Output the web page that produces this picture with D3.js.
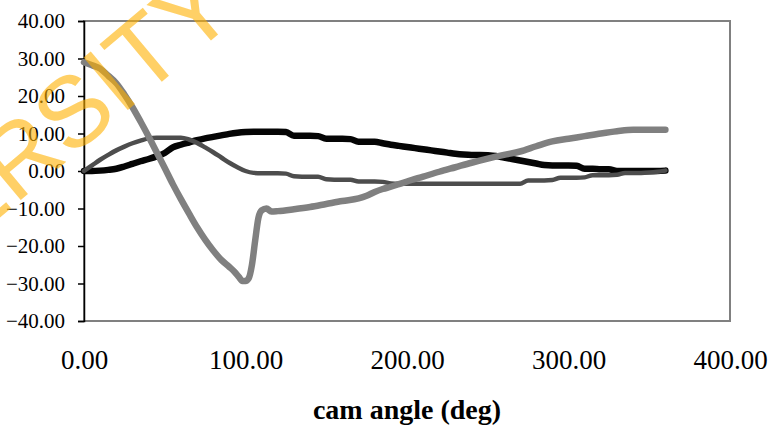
<!DOCTYPE html>
<html>
<head>
<meta charset="utf-8">
<script src="https://cdn.jsdelivr.net/npm/d3@7"></script>
<style>
  html, body { margin: 0; padding: 0; background: #fff; }
  svg { display: block; }
</style>
</head>
<body>
<svg id="chart" width="771" height="427"></svg>
<script>
// cam angle (deg), shared by the first two series
var angles = [0, 5, 10, 15, 20, 25, 30, 35, 40, 45, 50, 55, 60, 65, 70, 75, 80, 85, 90, 95,
  100, 105, 110, 115, 120, 125, 130, 135, 140, 145, 150, 155, 160, 165, 170, 175, 180, 185, 190, 195,
  200, 205, 210, 215, 220, 225, 230, 235, 240, 245, 250, 255, 260, 265, 270, 275, 280, 285, 290, 295,
  300, 305, 310, 315, 320, 325, 330, 335, 340, 345, 350, 355, 360];

// black series
var seriesA = [0, 0, 0.1, 0.3, 0.6, 1.2, 1.9, 2.6, 3.2, 3.9, 4.8, 6.3, 7.0, 7.6, 8.2, 8.7, 9.1, 9.5, 9.9, 10.2,
  10.4, 10.5, 10.5, 10.5, 10.5, 10.4, 9.4, 9.4, 9.4, 9.3, 8.6, 8.6, 8.6, 8.5, 7.8, 7.8, 7.8, 7.4, 7.0, 6.7,
  6.4, 6.1, 5.8, 5.5, 5.2, 4.9, 4.6, 4.4, 4.3, 4.3, 4.2, 4.0, 3.6, 3.2, 2.8, 2.4, 2.0, 1.6, 1.5, 1.5,
  1.5, 1.4, 0.6, 0.6, 0.5, 0.5, 0.0, 0.0, 0.0, 0.0, 0.0, 0.0, 0.1];

// dark grey series
var seriesB = [0, 1.5, 3.0, 4.3, 5.5, 6.5, 7.4, 8.1, 8.7, 8.9, 8.9, 8.9, 8.9, 8.4, 7.5, 6.3, 5.0, 3.6, 2.2, 1.0,
  0.0, -0.5, -0.6, -0.6, -0.6, -0.7, -1.4, -1.5, -1.5, -1.5, -2.2, -2.3, -2.3, -2.3, -2.8, -2.8, -2.8, -2.9, -3.3, -3.4,
  -3.4, -3.4, -3.4, -3.4, -3.4, -3.4, -3.4, -3.4, -3.4, -3.4, -3.4, -3.4, -3.4, -3.4, -3.4, -2.5, -2.5, -2.5, -2.4, -1.8,
  -1.8, -1.8, -1.7, -1.1, -1.1, -1.1, -1.0, -0.5, -0.5, -0.5, -0.4, -0.2, 0.1];

// light grey series has its own angles (sharp dip near 100 deg)
var anglesC = [0, 5, 10, 15, 20, 25, 30, 35, 40, 45, 50, 55, 60, 65, 70, 75, 80, 85, 90, 93,
  96, 98, 100, 102, 104, 106, 108, 110, 113, 116, 120, 130, 140, 150, 160, 170, 175, 180, 185, 190,
  195, 200, 210, 220, 230, 240, 250, 260, 270, 280, 290, 300, 310, 320, 330, 340, 350, 360];
var seriesC = [29.0, 28.2, 27.3, 25.4, 23.4, 20.4, 17.0, 13.2, 9.2, 5.0, 0.8, -3.5, -7.5, -11.3, -15.0, -18.3, -21.2, -23.7, -25.6, -26.8,
  -28.3, -29.3, -29.3, -28.6, -25.0, -18.5, -12.5, -10.5, -10.0, -10.8, -10.7, -10.2, -9.6, -8.8, -8.0, -7.3, -6.6, -5.6, -4.8, -4.2,
  -3.5, -2.8, -1.5, -0.2, 1.0, 2.2, 3.3, 4.3, 5.2, 6.6, 7.9, 8.6, 9.3, 10.0, 10.6, 11.0, 11.0, 11.0];

var xTicks = [0, 100, 200, 300, 400];
var yTicks = [-40, -30, -20, -10, 0, 10, 20, 30, 40];
var xTitle = 'cam angle (deg)';
var watermark = 'UNIVERSITY';

var svg = d3.select('#chart'),
    margin = {top: 21, right: 41, bottom: 106, left: 84},
    width = +svg.attr('width') - margin.left - margin.right,
    height = +svg.attr('height') - margin.top - margin.bottom,
    g = svg.append('g').attr('transform', 'translate(' + margin.left + ',' + margin.top + ')');

var x = d3.scaleLinear().domain([0, 400]).range([0, width]);
var y = d3.scaleLinear().domain([-40, 40]).range([height, 0]);

// plot area border
g.append('rect')
    .attr('width', width)
    .attr('height', height)
    .attr('fill', 'none')
    .attr('stroke', '#808080')
    .attr('stroke-width', 2);

// y axis
var yAxis = d3.axisLeft(y)
    .tickValues(yTicks)
    .tickSize(6)
    .tickPadding(13)
    .tickFormat(d3.format('.2f'));

var yg = g.append('g').attr('class', 'y axis').call(yAxis);
yg.select('.domain').attr('stroke', '#000').attr('stroke-width', 1.5);
yg.selectAll('.tick line').attr('stroke', '#000').attr('stroke-width', 1.5);
yg.selectAll('.tick text')
    .attr('fill', '#000')
    .style('font-family', '"Liberation Serif", "Times New Roman", serif')
    .style('font-size', '21px');

// x axis labels only, no line or ticks
var xAxis = d3.axisBottom(x)
    .tickValues(xTicks)
    .tickSize(0)
    .tickPadding(29)
    .tickFormat(d3.format('.2f'));

var xg = g.append('g')
    .attr('class', 'x axis')
    .attr('transform', 'translate(0,' + height + ')')
    .call(xAxis);
xg.select('.domain').remove();
xg.selectAll('.tick text')
    .attr('fill', '#000')
    .style('font-family', '"Liberation Serif", "Times New Roman", serif')
    .style('font-size', '27px');

// axis title
svg.append('text')
    .attr('x', margin.left + width / 2)
    .attr('y', 419)
    .attr('text-anchor', 'middle')
    .style('font-family', '"Liberation Serif", "Times New Roman", serif')
    .style('font-size', '28px')
    .style('font-weight', 'bold')
    .text(xTitle);

// lines, drawn in series order
var line = d3.line()
    .x(function (d) { return x(d[0]); })
    .y(function (d) { return y(d[1]); })
    .curve(d3.curveMonotoneX);

var lines = [
  {data: d3.zip(angles, seriesA), color: '#050505', w: 6.5},
  {data: d3.zip(angles, seriesB), color: '#4d4d4d', w: 4.5},
  {data: d3.zip(anglesC, seriesC), color: '#808080', w: 6.5}
];

g.append('g')
    .attr('class', 'lines')
    .selectAll('path')
    .data(lines)
    .enter()
    .append('path')
    .attr('fill', 'none')
    .attr('stroke', function (d) { return d.color; })
    .attr('stroke-width', function (d) { return d.w; })
    .attr('stroke-linejoin', 'round')
    .attr('stroke-linecap', 'round')
    .attr('d', function (d) { return line(d.data); });

// watermark over the top-left corner
svg.append('text')
    .attr('transform', 'translate(240,16) rotate(-40)')
    .attr('text-anchor', 'end')
    .attr('fill', '#ffb000')
    .attr('fill-opacity', 0.6)
    .style('font-family', '"Liberation Sans", Arial, sans-serif')
    .style('font-size', '100px')
    .text(watermark);
</script>
</body>
</html>
